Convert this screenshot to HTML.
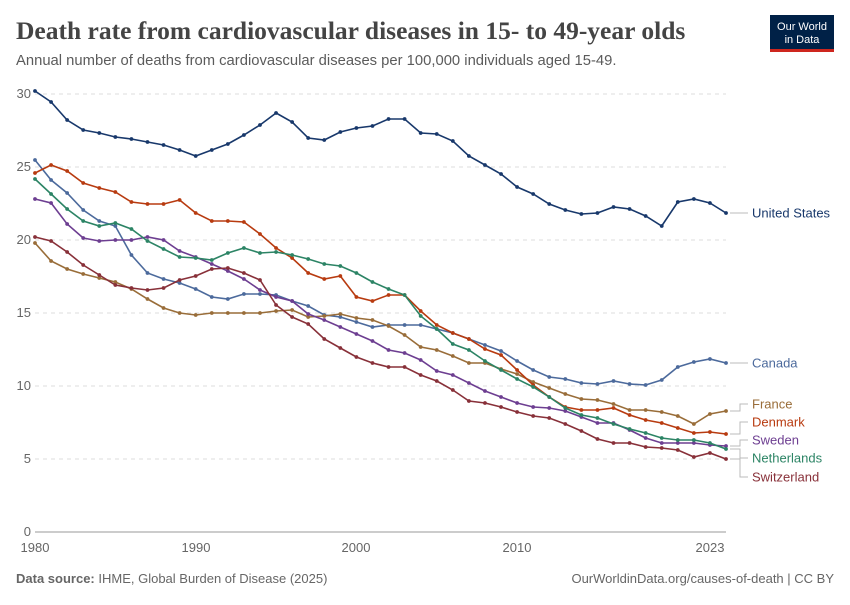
<!DOCTYPE html>
<html><head><meta charset="utf-8"><style>
body{margin:0;background:#fff;width:850px;height:600px;overflow:hidden;font-family:"Liberation Sans",sans-serif}
</style></head><body>
<svg id="s" width="850" height="600" xmlns="http://www.w3.org/2000/svg" font-family="Liberation Sans, sans-serif">
<text x="16" y="39" font-family="Liberation Serif, serif" font-weight="bold" font-size="25.5" fill="#444">Death rate from cardiovascular diseases in 15- to 49-year olds</text>
<text x="16" y="65" font-size="14.8" fill="#5b5b5b">Annual number of deaths from cardiovascular diseases per 100,000 individuals aged 15-49.</text>
<rect x="770" y="15" width="64" height="36" fill="#002147"/>
<rect x="770" y="49" width="64" height="3" fill="#ce261e"/>
<text x="802" y="30" font-size="11" fill="#fff" text-anchor="middle">Our World</text>
<text x="802" y="43" font-size="11" fill="#fff" text-anchor="middle">in Data</text>
<g id="grid" stroke="#ddd" stroke-dasharray="4,4"></g>
<line x1="35" y1="532" x2="726" y2="532" stroke="#999"/>
<g font-size="13" fill="#666" id="yl"></g>
<g font-size="13" fill="#666" text-anchor="middle">
<text x="35" y="552">1980</text><text x="196" y="552">1990</text><text x="356" y="552">2000</text><text x="517" y="552">2010</text><text x="710" y="552">2023</text>
</g>
<g id="lines"></g>
<text x="16" y="583" font-size="13" fill="#666"><tspan font-weight="bold">Data source:</tspan> IHME, Global Burden of Disease (2025)</text>
<text x="834" y="583" font-size="13" fill="#666" text-anchor="end">OurWorldinData.org/causes-of-death | CC BY</text>
</svg>
<script>
var ns="http://www.w3.org/2000/svg",s=document.getElementById('s');
function el(t,a,p){var e=document.createElementNS(ns,t);for(var k in a)e.setAttribute(k,a[k]);(p||s).appendChild(e);return e;}
var g=document.getElementById('grid'),yl=document.getElementById('yl');
for(var k=1;k<=6;k++){var y=532-73*k;el('line',{x1:35,x2:726,y1:y,y2:y},g);}
for(var k=0;k<=6;k++){var t=el('text',{x:31,y:532-73*k+4,'text-anchor':'end'},yl);t.textContent=(k*5)+'';}
var D=[
["United States","#18386b",213,[91,102,120,130,133,137,139,142,145,150,156,150,144,135,125,113,122,138,140,132,128,126,119,119,133,134,141,156,165,174,187,194,204,210,214,213,207,209,216,226,202,199,203,213]],
["Canada","#4c6a9c",363,[160,180,193,210,221,226,255,273,279,283,289,297,299,294,294,295,301,306,315,317,322,327,325,325,325,329,333,339,345,351,361,370,377,379,383,384,381,384,385,380,367,362,359,363]],
["France","#996d39",404,[243,261,269,274,278,282,289,299,308,313,315,313,313,313,313,311,310,317,316,314,318,320,326,335,347,350,356,363,363,369,374,382,388,394,399,400,404,410,410,412,416,424,414,411]],
["Denmark","#b83b10",422,[173,165,171,183,188,192,202,204,204,200,213,221,221,222,234,248,258,273,279,276,297,301,295,295,311,325,333,339,349,355,370,385,397,407,410,410,408,415,420,423,428,433,432,434]],
["Sweden","#6d3e91",440,[199,203,224,238,241,240,240,237,240,251,257,264,271,279,290,297,301,314,320,327,334,341,350,353,360,371,375,383,391,397,403,407,408,411,417,423,423,430,438,443,443,443,445,446]],
["Netherlands","#2c8465",458,[179,194,209,221,226,223,229,241,249,257,258,260,253,248,253,252,255,259,264,266,273,282,289,295,316,329,344,350,361,370,379,387,397,408,415,418,424,429,433,438,440,440,443,449]],
["Switzerland","#883039",477,[237,241,252,265,275,285,288,290,288,280,276,269,268,273,280,305,317,324,339,348,357,363,367,367,375,381,390,401,403,407,412,416,418,424,431,439,443,443,447,448,450,457,453,459]]];
var L=document.getElementById('lines');
D.forEach(function(d){var pts=d[3].map(function(y,i){return (35+i*16.07).toFixed(1)+','+y;});
el('polyline',{points:pts.join(' '),fill:'none',stroke:d[1],'stroke-width':1.6},L);
d[3].forEach(function(y,i){el('circle',{cx:35+i*16.07,cy:y,r:1.9,fill:d[1]},L);});
var ly=d[3][43];el('polyline',{points:'730,'+ly+' 740,'+ly+' 740,'+d[2]+' 748,'+d[2],fill:'none',stroke:'#bbb'},L);
var t=el('text',{x:752,y:d[2]+4.5,'font-size':13,fill:d[1]},L);t.textContent=d[0];});
</script>
</body></html>
